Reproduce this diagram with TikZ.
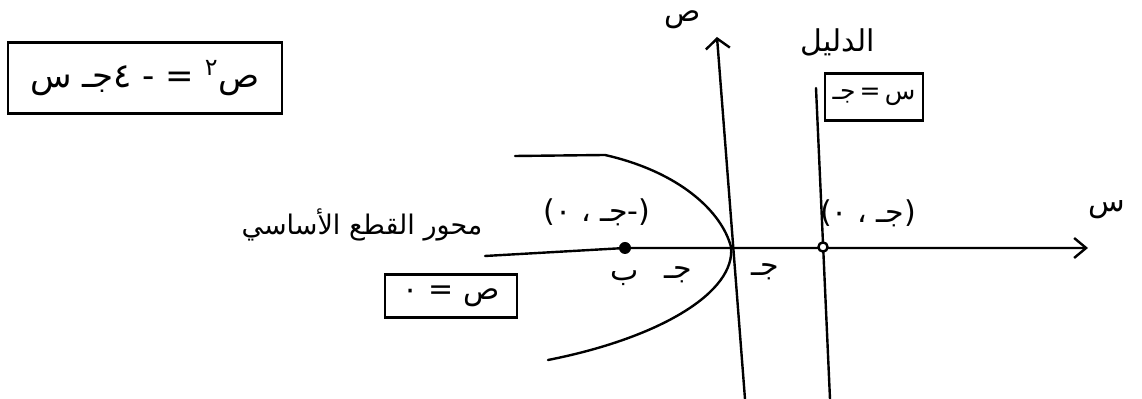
\documentclass[tikz,border=0pt]{standalone}
\usepackage{fontspec}
\usetikzlibrary{arrows.meta}
\TeXXeTstate=1
\newfontfamily\arabicfont[Script=Arabic]{DejaVu Sans}
\begin{document}
\begin{tikzpicture}[x=0.5pt,y=-0.5pt,
  ink/.style={line width=1.2pt, line cap=round, line join=round},
  lbl/.style={inner sep=0pt, font=\arabicfont\fontsize{15}{18}\selectfont},
  boxed/.style={draw, line width=1.2pt, inner sep=0pt, font=\arabicfont\fontsize{15}{18}\selectfont},
  xarrow/.style={-{Straight Barb[length=6pt,width=10pt]}},
  yarrow/.style={-{Straight Barb[length=5pt,width=12pt]}}
]
\useasboundingbox (0,0) rectangle (1142,399);

% boxes and labels
\node[boxed, minimum width=137pt, minimum height=35.5pt,
      font=\arabicfont\fontsize{17}{20}\selectfont] (eq) at (145,78)
  {\beginR ص\textsuperscript{٢} = - ٤جـ س\endR};
\node[lbl, font=\arabicfont\fontsize{13.5}{16}\selectfont] (ax) at (362,225) {\beginR محور القطع الأساسي\endR};
\node[boxed, minimum width=66pt, minimum height=21.5pt] (y0) at (451,296) {\beginR ص = ٠\endR};
\node[boxed, inner xsep=4pt, minimum height=23.5pt,
      font=\arabicfont\fontsize{12.5}{15}\selectfont] (dir) at (874,97) {\beginR س\,=\,جـ\endR};
\node[lbl] (dirlbl) at (838,42) {\beginR الدليل\endR};
\node[lbl] (ylbl) at (683,20) {ص};
\node[lbl] (xlbl) at (1107,210) {س};
\node[lbl] (fc) at (597,212) {\beginR(-جـ ، ٠)\endR};
\node[lbl] (dc) at (868,213) {\beginR(جـ ، ٠)\endR};
\node[lbl] (b) at (625,278) {ب};
\node[lbl] (c1) at (678,275) {جـ};
\node[lbl] (c2) at (765,272) {جـ};

% geometry
\coordinate (xs) at (485,256);
\coordinate (xe) at (1088,248);
\coordinate (F) at (625,248);
\coordinate (V) at (731,247);
\coordinate (D) at (823,247);
\coordinate (ys) at (745,399);
\coordinate (ye) at (717,37);
\coordinate (ds) at (816,88);
\coordinate (de) at (830,399);
\coordinate (p1) at (515,156);
\coordinate (p2) at (605,155);
\coordinate (p3) at (548,360);

\draw[ink, xarrow] (xs) -- (F) -- (xe);
\draw[ink, yarrow] (ys) -- (ye);
\draw[ink] (ds) -- (de);
\draw[ink] (p1) -- (p2) .. controls (680,172) and (722,212) .. (V)
  .. controls (736,292) and (660,338) .. (p3);
\fill (F) circle (3pt);
\draw[ink, fill=white] (D) circle (2.3pt);
\end{tikzpicture}
\end{document}
